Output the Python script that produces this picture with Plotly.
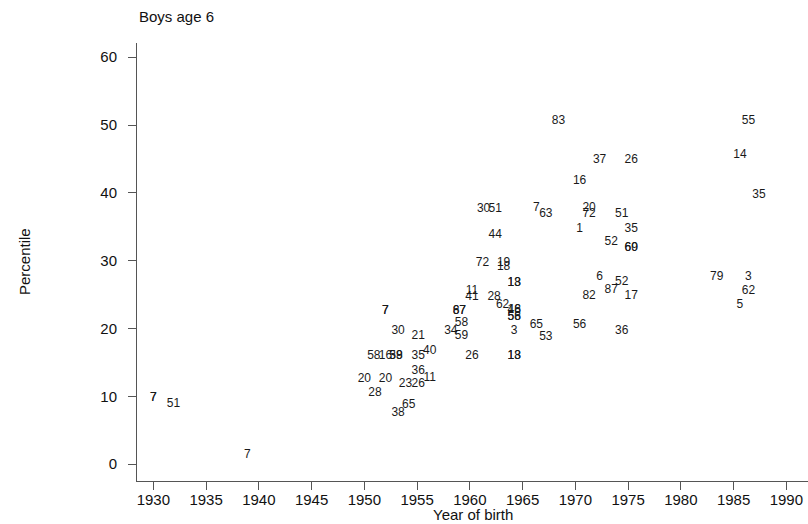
import plotly.graph_objects as go

# Each point is a study/cohort: birth year, percentile, and its reference number
birth_year = [
    1930.0, 1930.0, 1931.9, 1938.9,
    1952.0, 1952.0, 1953.2, 1955.1, 1950.9, 1952.0, 1953.0, 1953.0,
    1955.1, 1956.2, 1955.1, 1956.2, 1950.0, 1952.0, 1953.9, 1955.1,
    1951.0, 1954.2, 1953.2,
    1959.0, 1959.0, 1959.2, 1958.2, 1959.2, 1960.2, 1960.2, 1960.2,
    1961.2, 1963.2, 1963.2, 1961.3, 1962.4, 1962.4, 1966.3, 1967.2,
    1964.2, 1964.2, 1962.3, 1963.1, 1964.2, 1964.2, 1964.2, 1964.2,
    1964.2, 1966.3, 1967.2, 1964.2, 1964.2,
    1968.4, 1972.3, 1975.3, 1970.4, 1971.3, 1971.3, 1974.4, 1970.4,
    1975.3, 1973.4, 1975.3, 1975.3, 1972.3, 1974.4, 1973.4, 1971.3,
    1975.3, 1970.4, 1974.4,
    1986.4, 1985.6, 1987.4, 1983.4, 1986.4, 1986.4, 1985.6,
]
percentile = [
    9.7, 9.7, 8.8, 1.3,
    22.6, 22.6, 19.6, 18.9, 15.9, 15.9, 15.9, 15.9,
    15.9, 16.7, 13.7, 12.7, 12.5, 12.5, 11.8, 11.8,
    10.5, 8.7, 7.5,
    22.6, 22.6, 20.8, 19.6, 18.9, 15.9, 25.5, 24.6,
    29.6, 29.6, 29.0, 37.6, 37.6, 33.8, 37.8, 36.9,
    26.7, 26.7, 24.6, 23.5, 22.7, 22.7, 21.7, 21.7,
    19.6, 20.5, 18.7, 15.9, 15.9,
    50.6, 44.8, 44.8, 41.7, 37.8, 36.9, 36.9, 34.7,
    34.7, 32.7, 31.9, 31.9, 27.6, 26.8, 25.7, 24.8,
    24.8, 20.5, 19.6,
    50.6, 45.6, 39.7, 27.6, 27.6, 25.5, 23.5,
]
study_id = [
    "7", "7", "51", "7",
    "7", "7", "30", "21", "58", "16", "58", "39",
    "35", "40", "36", "11", "20", "20", "23", "26",
    "28", "65", "38",
    "87", "67", "58", "34", "59", "26", "11", "41",
    "72", "19", "18", "30", "51", "44", "7", "63",
    "13", "18", "28", "62", "46", "18", "56", "58",
    "3", "65", "53", "13", "18",
    "83", "37", "26", "16", "20", "72", "51", "1",
    "35", "52", "60", "69", "6", "52", "87", "82",
    "17", "56", "36",
    "55", "14", "35", "79", "3", "62", "5",
]

x_ticks = [1930, 1935, 1940, 1945, 1950, 1955, 1960, 1965, 1970, 1975, 1980, 1985, 1990]
y_ticks = [0, 10, 20, 30, 40, 50, 60]

FONT = "Liberation Sans, Arial, sans-serif"
AXIS_GREY = "#555555"

fig = go.Figure(
    go.Scatter(
        x=birth_year,
        y=percentile,
        mode="text",
        text=study_id,
        textposition="middle center",
        textfont=dict(family=FONT, size=12, color="#1a1a1a"),
        hoverinfo="x+y+text",
        showlegend=False,
    )
)

fig.update_layout(
    width=808,
    height=524,
    margin=dict(l=137, r=0, t=43, b=43),
    paper_bgcolor="white",
    plot_bgcolor="white",
    font=dict(family=FONT, color="#111111"),
    annotations=[
        dict(text="Boys age 6", xref="paper", yref="paper", x=0, y=1,
             xanchor="left", yanchor="bottom", yshift=16, showarrow=False,
             font=dict(family=FONT, size=15, color="#111111")),
        dict(text="Percentile", xref="paper", yref="paper", x=0, y=0.5,
             xanchor="center", yanchor="middle", xshift=-113, textangle=-90,
             showarrow=False, font=dict(family=FONT, size=15, color="#111111")),
        dict(text="Year of birth", xref="paper", yref="paper", x=0.5, y=0,
             xanchor="center", yanchor="top", yshift=-23, showarrow=False,
             font=dict(family=FONT, size=15, color="#111111")),
    ],
)

fig.update_xaxes(
    range=[1928.45, 1992.05],
    tickvals=x_ticks,
    ticktext=[str(v) for v in x_ticks],
    showgrid=False,
    zeroline=False,
    showline=True,
    linecolor=AXIS_GREY,
    linewidth=1,
    ticks="outside",
    ticklen=8,
    tickcolor=AXIS_GREY,
    ticklabelstandoff=-3,
    tickfont=dict(family=FONT, size=15, color="#111111"),
)
fig.update_yaxes(
    range=[-2.5, 62.1],
    tickvals=y_ticks,
    ticktext=[str(v) for v in y_ticks],
    showgrid=False,
    zeroline=False,
    showline=True,
    linecolor=AXIS_GREY,
    linewidth=1,
    ticks="outside",
    ticklen=8,
    tickcolor=AXIS_GREY,
    ticklabelstandoff=8,
    tickfont=dict(family=FONT, size=15, color="#111111"),
)

fig.write_html("out.html")
